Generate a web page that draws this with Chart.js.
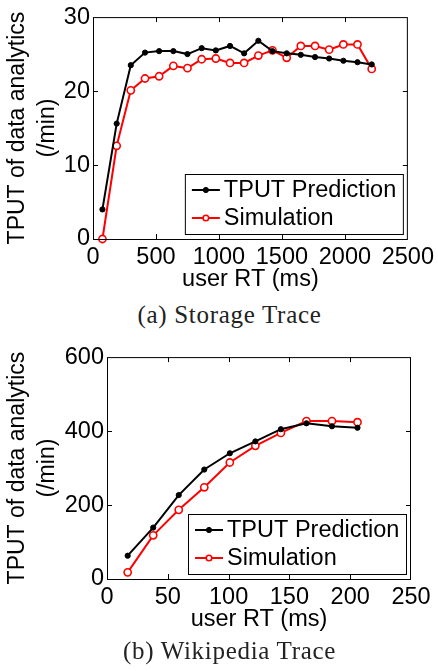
<!DOCTYPE html>
<html>
<head>
<meta charset="utf-8">
<script src="https://cdn.jsdelivr.net/npm/chart.js@4"></script>
<style>
  html, body { margin: 0; padding: 0; background: #fff; }
  body { width: 438px; height: 671px; position: relative; overflow: hidden; }
  .panel { position: absolute; left: 0; width: 438px; height: 300px; }
  .caption {
    position: absolute; left: 0; width: 459px; text-align: center;
    font-family: "Liberation Serif", "Times New Roman", serif;
    font-size: 25px; line-height: 25px; letter-spacing: 0.7px; color: #222;
  }
</style>
</head>
<body>
<div class="panel" style="top:0"><canvas id="storage" width="438" height="300"></canvas></div>
<div class="caption" style="top:302px">(a) Storage Trace</div>
<div class="panel" style="top:340px"><canvas id="wiki" width="438" height="300"></canvas></div>
<div class="caption" style="top:638px">(b) Wikipedia Trace</div>

<script>
// Storage trace: user response time (ms) vs. analytics throughput (/min)
const storageRT   = [75, 188, 300, 413, 525, 638, 750, 863, 975, 1088, 1200, 1313, 1425, 1538, 1650, 1763, 1875, 1988, 2100, 2213];
const storagePred = [4.0, 15.6, 23.5, 25.2, 25.4, 25.4, 25.0, 25.8, 25.5, 26.1, 25.1, 26.8, 25.4, 25.1, 24.9, 24.6, 24.4, 24.1, 23.9, 23.6];
const storageSim  = [0.0, 12.6, 20.1, 21.7, 22.0, 23.4, 23.1, 24.3, 24.4, 23.8, 23.8, 24.8, 25.5, 24.5, 26.1, 26.1, 25.6, 26.3, 26.3, 23.0];
const storageXTicks = [0, 500, 1000, 1500, 2000, 2500];
const storageYTicks = [0, 10, 20, 30];

// Wikipedia trace
const wikiRT   = [17, 38, 59, 80, 101, 122, 143, 164, 185, 206];
const wikiPred = [63, 139, 227, 296, 340, 372, 405, 421, 413, 409];
const wikiSim  = [18, 118, 187, 248, 315, 360, 395, 427, 427, 424];
const wikiXTicks = [0, 50, 100, 150, 200, 250];
const wikiYTicks = [0, 200, 400, 600];

const seriesNames = ['TPUT Prediction', 'Simulation'];
const xTitle = 'user RT (ms)';
const yTitle = ['TPUT of data analytics', '(/min)'];

const SANS = '"Liberation Sans", Arial, Helvetica, sans-serif';

// Plot box with inward tick marks on all four sides
const framePlugin = {
  id: 'frame',
  afterDatasetsDraw(chart) {
    const { ctx, chartArea: a, scales: { x, y } } = chart;
    ctx.save();
    ctx.strokeStyle = '#000';
    ctx.lineWidth = 1;
    ctx.strokeRect(a.left + 0.5, a.top + 0.5, a.right - a.left - 1, a.bottom - a.top);
    const len = 5;
    ctx.beginPath();
    x.ticks.forEach(t => {
      const px = Math.round(x.getPixelForValue(t.value)) + 0.5;
      if (px <= a.left + 1 || px >= a.right - 1) return;
      ctx.moveTo(px, a.bottom); ctx.lineTo(px, a.bottom - len);
      ctx.moveTo(px, a.top); ctx.lineTo(px, a.top + len);
    });
    y.ticks.forEach(t => {
      const py = Math.round(y.getPixelForValue(t.value)) + 0.5;
      if (py <= a.top + 1 || py >= a.bottom - 1) return;
      ctx.moveTo(a.left, py); ctx.lineTo(a.left + len, py);
      ctx.moveTo(a.right, py); ctx.lineTo(a.right - len, py);
    });
    ctx.stroke();
    ctx.restore();
  }
};

// Boxed legend in the lower-right corner of the plot
const boxLegendPlugin = {
  id: 'boxLegend',
  afterDraw(chart) {
    const { ctx, chartArea: a } = chart;
    const w = 218, h = 60;
    const right = a.right - 5, bottom = a.bottom - 5;
    const left = right - w, top = bottom - h;
    ctx.save();
    ctx.fillStyle = '#fff';
    ctx.fillRect(left, top, w, h);
    ctx.strokeStyle = '#000';
    ctx.lineWidth = 1;
    ctx.strokeRect(left + 0.5, top + 0.5, w, h);
    ctx.font = '23.5px ' + SANS;
    ctx.textBaseline = 'middle';
    ctx.textAlign = 'left';
    chart.data.datasets.forEach((ds, i) => {
      const cy = top + 16 + i * 28;
      ctx.strokeStyle = ds.borderColor;
      ctx.lineWidth = ds.borderWidth;
      ctx.beginPath();
      ctx.moveTo(left + 7, cy); ctx.lineTo(left + 35, cy);
      ctx.stroke();
      ctx.beginPath();
      ctx.arc(left + 21, cy, ds.pointRadius - (i === 1 ? 0.8 : 0), 0, Math.PI * 2);
      ctx.fillStyle = ds.pointBackgroundColor;
      ctx.fill();
      ctx.lineWidth = ds.pointBorderWidth;
      ctx.strokeStyle = ds.pointBorderColor;
      ctx.stroke();
      ctx.fillStyle = '#000';
      ctx.fillText(ds.label, left + 39, cy + 1);
    });
    ctx.restore();
  }
};

const plainNumber = v => String(v);

function makeChart(id, xs, pred, sim, xTicks, yTicks, yAxisWidth) {
  const toPoints = vals => vals.map((v, i) => ({ x: xs[i], y: v }));
  return new Chart(document.getElementById(id), {
    type: 'line',
    data: {
      datasets: [
        {
          label: seriesNames[0], data: toPoints(pred),
          borderColor: '#000', borderWidth: 2,
          pointRadius: 2.6, pointBackgroundColor: '#000', pointBorderColor: '#000', pointBorderWidth: 1,
          tension: 0, clip: false
        },
        {
          label: seriesNames[1], data: toPoints(sim),
          borderColor: '#ff0000', borderWidth: 2,
          pointRadius: 3.6, pointBackgroundColor: '#fff', pointBorderColor: '#ff0000', pointBorderWidth: 1.6,
          tension: 0, clip: false
        }
      ]
    },
    options: {
      responsive: false, animation: false, devicePixelRatio: 1,
      layout: { padding: { top: 14, right: 27, left: 0, bottom: 0 } },
      plugins: { legend: { display: false }, tooltip: { enabled: false } },
      elements: { point: { pointStyle: 'circle' } },
      scales: {
        x: {
          type: 'linear', min: xTicks[0], max: xTicks[xTicks.length - 1],
          afterBuildTicks(s) { s.ticks = xTicks.map(v => ({ value: v })); },
          ticks: { color: '#000', font: { family: SANS, size: 23.5 }, padding: 4, maxRotation: 0, autoSkip: false, callback: plainNumber },
          grid: { display: false, drawTicks: false },
          border: { display: false },
          title: { display: true, text: xTitle, color: '#000', font: { family: SANS, size: 23.5, lineHeight: 1.2 }, padding: { top: 0, bottom: 6 } },
          afterFit(s) { s.height = 61; }
        },
        y: {
          type: 'linear', min: yTicks[0], max: yTicks[yTicks.length - 1],
          afterBuildTicks(s) { s.ticks = yTicks.map(v => ({ value: v })); },
          ticks: { color: '#000', font: { family: SANS, size: 23.5 }, padding: 3, callback: plainNumber },
          grid: { display: false, drawTicks: false },
          border: { display: false },
          title: { display: true, text: yTitle, color: '#000', font: { family: SANS, size: 23, lineHeight: 1.3 }, padding: { top: 3, bottom: 0 } },
          afterFit(s) { s.width = yAxisWidth; }
        }
      }
    },
    plugins: [framePlugin, boxLegendPlugin]
  });
}

makeChart('storage', storageRT, storagePred, storageSim, storageXTicks, storageYTicks, 93);
makeChart('wiki', wikiRT, wikiPred, wikiSim, wikiXTicks, wikiYTicks, 107);
</script>
</body>
</html>
